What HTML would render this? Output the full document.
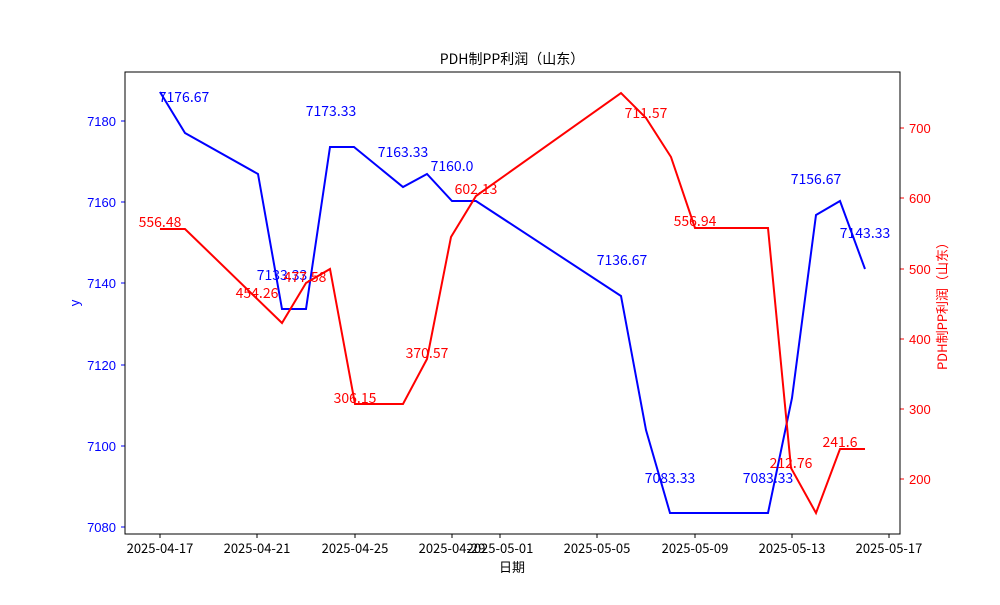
<!DOCTYPE html>
<html><head><meta charset="utf-8"><style>body{margin:0;background:#fff}</style></head><body>
<svg width="1000" height="600" xmlns="http://www.w3.org/2000/svg" font-family="'WenQuanYi Zen Hei','Noto Sans CJK SC',sans-serif">
<rect width="1000" height="600" fill="#fff"/>
<text x="512" y="64" font-size="14" text-anchor="middle">PDH制PP利润（山东）</text>
<g stroke="#000" stroke-width="1">
<line x1="160" y1="534" x2="160" y2="538"/><line x1="257" y1="534" x2="257" y2="538"/><line x1="355" y1="534" x2="355" y2="538"/><line x1="452" y1="534" x2="452" y2="538"/><line x1="500" y1="534" x2="500" y2="538"/><line x1="597" y1="534" x2="597" y2="538"/><line x1="695" y1="534" x2="695" y2="538"/><line x1="792" y1="534" x2="792" y2="538"/><line x1="889" y1="534" x2="889" y2="538"/>
</g>
<g font-size="13" text-anchor="middle">
<text x="160" y="553">2025-04-17</text><text x="257" y="553">2025-04-21</text><text x="355" y="553">2025-04-25</text><text x="452" y="553">2025-04-29</text><text x="500" y="553">2025-05-01</text><text x="597" y="553">2025-05-05</text><text x="695" y="553">2025-05-09</text><text x="792" y="553">2025-05-13</text><text x="889" y="553">2025-05-17</text>
<text x="512" y="572">日期</text>
</g>
<g stroke="#00f"><line x1="121" y1="527" x2="125" y2="527"/><line x1="121" y1="446" x2="125" y2="446"/><line x1="121" y1="365" x2="125" y2="365"/><line x1="121" y1="283" x2="125" y2="283"/><line x1="121" y1="202" x2="125" y2="202"/><line x1="121" y1="121" x2="125" y2="121"/></g>
<g font-size="13" fill="#00f" text-anchor="end" font-family="'Liberation Sans',sans-serif">
<text x="116" y="532">7080</text><text x="116" y="451">7100</text><text x="116" y="370">7120</text><text x="116" y="288">7140</text><text x="116" y="207">7160</text><text x="116" y="126">7180</text>
</g>
<text transform="translate(79,303) rotate(-90)" font-size="13" fill="#00f" text-anchor="middle">y</text>
<g stroke="#f00"><line x1="900" y1="479" x2="904" y2="479"/><line x1="900" y1="409" x2="904" y2="409"/><line x1="900" y1="339" x2="904" y2="339"/><line x1="900" y1="269" x2="904" y2="269"/><line x1="900" y1="198" x2="904" y2="198"/><line x1="900" y1="128" x2="904" y2="128"/></g>
<g font-size="13" fill="#f00" font-family="'Liberation Sans',sans-serif">
<text x="909" y="484">200</text><text x="909" y="414">300</text><text x="909" y="344">400</text><text x="909" y="274">500</text><text x="909" y="203">600</text><text x="909" y="133">700</text>
</g>
<text transform="translate(947,303) rotate(-90)" font-size="13" fill="#f00" text-anchor="middle">PDH制PP利润（山东）</text>
<polyline fill="none" stroke="#00f" stroke-width="2" points="160,92 185,133 258,174 282,309 306,309 330,147 354,147 403,187 427,174 452,201 476,201 621,296 646,430 670,513 768,513 792,398 816,215 840,201 865,269"/>
<polyline fill="none" stroke="#f00" stroke-width="2" points="160,229 185,229 282,323 306,283 330,269 355,404 403,404 427,359 451,237 476,196 621,93 646,118 671,157 695,228 768,228 791,468 816,513 840,449 865,449"/>
<g font-size="14" fill="#00f" text-anchor="middle">
<text x="184" y="102">7176.67</text><text x="331" y="116">7173.33</text><text x="403" y="157">7163.33</text><text x="452" y="171">7160.0</text><text x="282" y="280">7133.33</text><text x="622" y="265">7136.67</text><text x="670" y="483">7083.33</text><text x="768" y="483">7083.33</text><text x="816" y="184">7156.67</text><text x="865" y="238">7143.33</text>
</g>
<g font-size="14" fill="#f00" text-anchor="middle">
<text x="160" y="227">556.48</text><text x="257" y="298">454.26</text><text x="305" y="282">477.58</text><text x="355" y="403">306.15</text><text x="427" y="358">370.57</text><text x="476" y="194">602.13</text><text x="646" y="118">711.57</text><text x="695" y="226">556.94</text><text x="791" y="468">212.76</text><text x="840" y="447">241.6</text>
</g>
<rect x="125" y="72" width="775" height="462" fill="none" stroke="#000" stroke-width="1"/>
</svg>
</body></html>
